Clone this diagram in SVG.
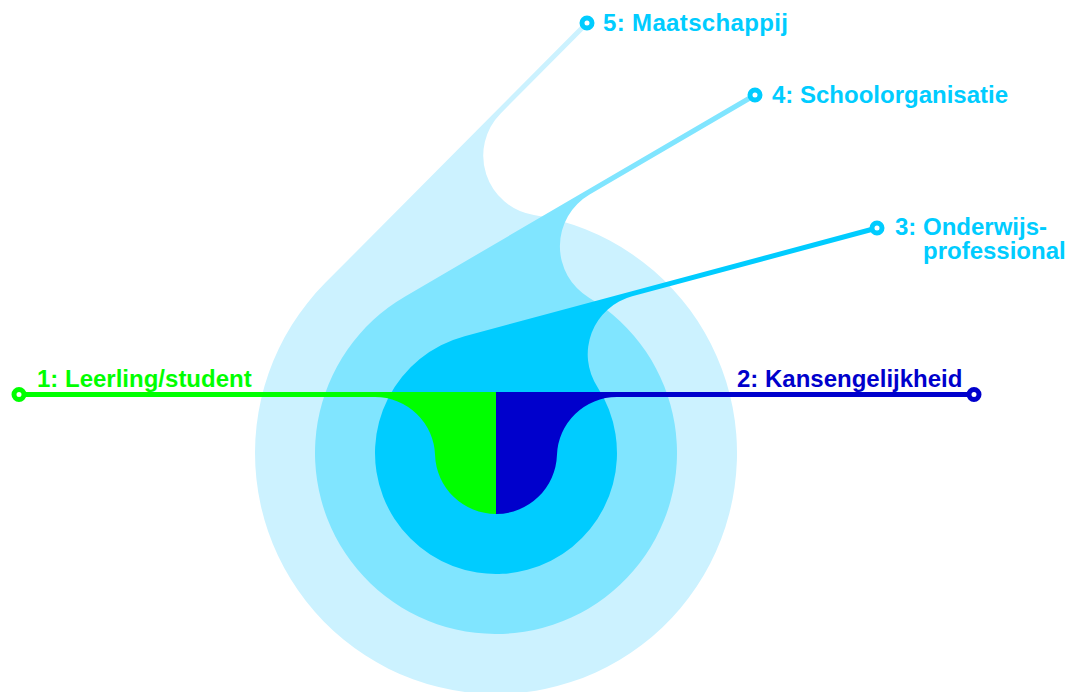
<svg xmlns="http://www.w3.org/2000/svg" width="1069" height="692" viewBox="0 0 1069 692">
  <style>
    .lbl { font-family: "Liberation Sans", Arial, sans-serif; font-weight: bold; font-size: 24px; }
    .ring { fill: #ffffff; stroke-width: 5; }
    .cyan { fill: #00CCFF; }
  </style>
  <rect width="1069" height="692" fill="#ffffff"/>
  <g id="layer5">
    <path fill="#CCF2FF" d="M585.23,21.24 L325.06,283.12 A241,241 0 1,0 533.84,214.98 A60,60 0 0,1 500.70,113.43 L588.77,24.76 Z"/>
    <circle class="ring" cx="587" cy="23" r="5" stroke="#00CCFF"/>
    <text class="lbl cyan" x="603" y="31" textLength="185">5: Maatschappij</text>
  </g>
  <g id="layer4">
    <path fill="#80E5FF" d="M753.74,92.84 L404.70,296.71 A181,181 0 1,0 589.05,297.74 A60,60 0 0,1 589.64,194.47 L756.26,97.16 Z"/>
    <circle class="ring" cx="755" cy="95" r="5" stroke="#00CCFF"/>
    <text class="lbl cyan" x="772" y="103">4: Schoolorganisatie</text>
  </g>
  <g id="layer3">
    <path fill="#00CCFF" d="M876.35,225.59 L464.62,336.14 A121,121 0 1,0 597.42,387.01 A60,60 0 0,1 632.15,296.34 L877.65,230.41 Z"/>
    <circle class="ring" cx="877" cy="228" r="5" stroke="#00CCFF"/>
    <text class="lbl cyan" x="895" y="235">3: Onderwijs-</text>
    <text class="lbl cyan" x="923" y="259">professional</text>
  </g>
  <g id="layer1">
    <path fill="#00FF00" d="M19,392 L496,392 L496,514 A61,61 0 0,1 435.05,455.02 A60,60 0 0,0 375.1,397 L19,397 Z"/>
    <circle class="ring" cx="19" cy="394.5" r="5" stroke="#00FF00"/>
    <text class="lbl" fill="#00FF00" x="37" y="387">1: Leerling/student</text>
  </g>
  <g id="layer2">
    <path fill="#0000CC" d="M496,392 L974,392 L974,397 L616.9,397 A60,60 0 0,0 556.95,455.02 A61,61 0 0,1 496,514 Z"/>
    <circle class="ring" cx="974" cy="394.5" r="5" stroke="#0000CC"/>
    <text class="lbl" fill="#0000CC" x="737" y="387">2: Kansengelijkheid</text>
  </g>
  <g id="connectors"></g>
</svg>
